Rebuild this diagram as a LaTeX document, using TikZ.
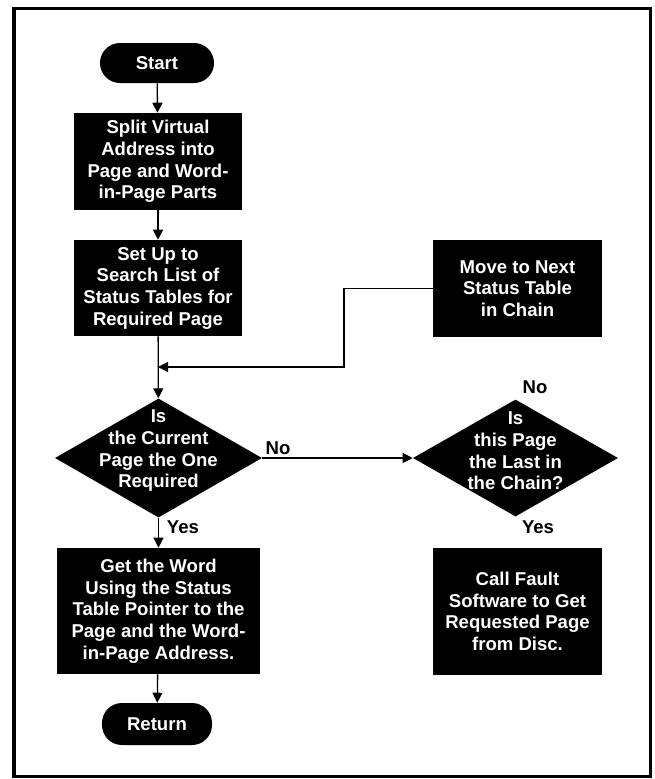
\documentclass[tikz,border=0pt]{standalone}
\usepackage{fontspec}
\setmainfont{Liberation Sans}
\usetikzlibrary{arrows.meta,shapes.geometric}

\newcommand{\boxfont}{\fontsize{13.2}{15.4}\selectfont\bfseries}

\tikzset{
  termnode/.style={fill=black, text=white, rounded corners=0.5cm, inner sep=0pt, font=\boxfont},
  procnode/.style={fill=black, text=white, align=center, inner sep=0pt, font=\boxfont},
  decnode/.style={diamond, fill=black, inner sep=0pt},
  dectext/.style={text=white, align=center, inner sep=0pt, font=\boxfont},
  flowline/.style={line width=0.033cm, -{Triangle[length=0.25cm,width=0.25cm]}},
  answer/.style={inner sep=0pt, font=\boxfont}
}

\begin{document}
\begin{tikzpicture}[x=0.025cm, y=-0.025cm]
                \useasboundingbox (0,0) rectangle (654,779);
                
                % Drawing frame
                \draw [line width=0.075cm] (14,8) rectangle (650,776);%
                
                % Drawing terminal start
                \node [termnode, minimum width=2.85cm, minimum height=1.0cm] (start) at (157,63) {Start};%
                
                % Drawing box split
                \node [procnode, minimum width=4.2cm, minimum height=2.425cm] (split) at (158,161.5)
                  {Split Virtual\\Address into\\Page and Word-\\in-Page Parts};%
                
                % Drawing box setup
                \node [procnode, minimum width=4.2cm, minimum height=2.4cm] (setup) at (158,288)
                  {Set Up to\\Search List of\\Status Tables for\\Required Page};%
                
                % Drawing box move
                \node [procnode, minimum width=4.225cm, minimum height=2.425cm] (move) at (517.5,288.5)
                  {Move to Next\\Status Table\\in Chain};%
                
                % Drawing decision current
                \node [decnode, minimum width=5.175cm, minimum height=2.975cm] (isdec) at (158.5,458) {};%
                \node [dectext] (isdectext) at (158.5,451) {Is\\the Current\\Page the One\\Required};%
                
                % Drawing decision last
                \node [decnode, minimum width=5.125cm, minimum height=2.925cm] (lastdec) at (515.5,458) {};%
                \node [dectext] (lastdectext) at (515.5,451) {Is\\this Page\\the Last in\\the Chain?};%
                
                % Drawing box getword
                \node [procnode, minimum width=5.075cm, minimum height=3.15cm] (getword) at (158.5,611)
                  {Get the Word\\Using the Status\\Table Pointer to the\\Page and the Word-\\in-Page Address.};%
                
                % Drawing box callfault
                \node [procnode, minimum width=4.225cm, minimum height=3.175cm] (callfault) at (517.5,611.5)
                  {Call Fault\\Software to Get\\Requested Page\\from Disc.};%
                
                % Drawing terminal return
                \node [termnode, minimum width=2.75cm, minimum height=1.05cm] (return) at (157,724) {Return};%
                
                % Drawing flow lines
                \coordinate (bend) at (344,367);%
                \coordinate (joinpt) at (158,367);%
                \draw [flowline] (start) -- (split);%
                \draw [flowline] (split) -- (setup);%
                \draw [flowline] (setup) -- (isdec);%
                \draw [flowline] (move.west) -| (bend) -- (joinpt);%
                \draw [flowline] (isdec.east) -- (lastdec.west);%
                \draw [flowline] (isdec.south) -- (getword.north);%
                \draw [flowline] (getword) -- (return);%
                
                % Marking answers
                \node [answer] (nocur) at (278,448) {No};%
                \node [answer] (yescur) at (183,527) {Yes};%
                \node [answer] (nolast) at (535,387) {No};%
                \node [answer] (yeslast) at (538,527) {Yes};%
\end{tikzpicture}
\end{document}
